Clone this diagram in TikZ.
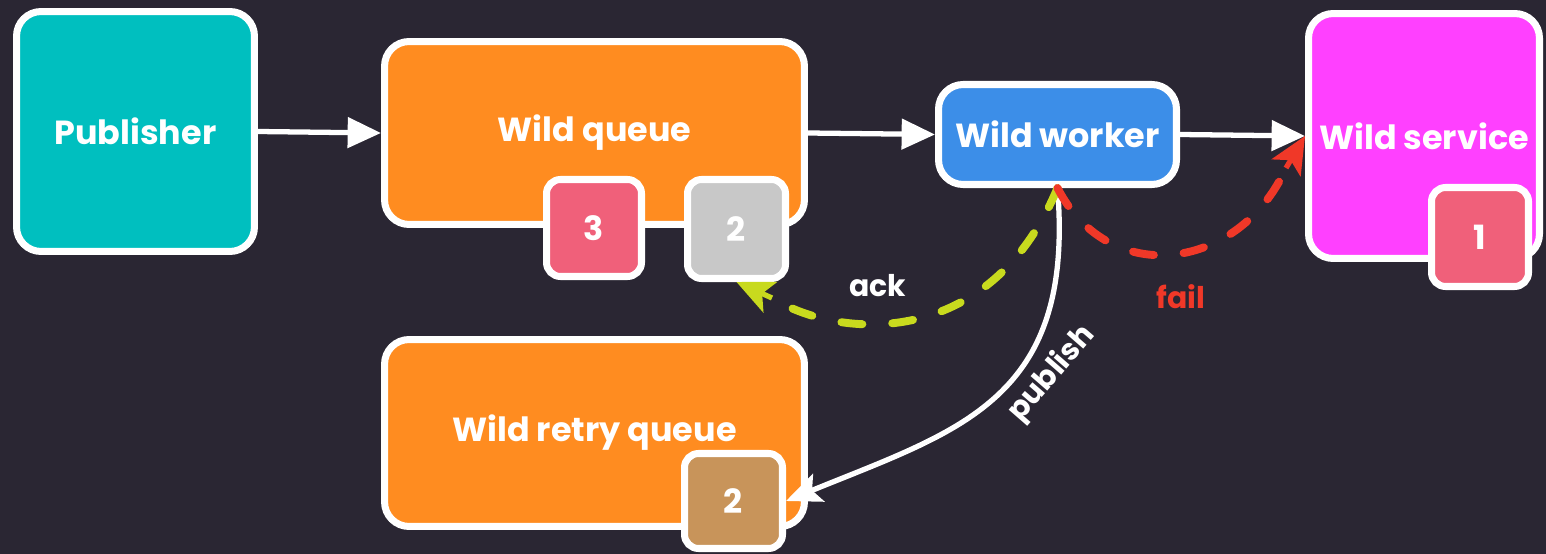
\documentclass[tikz,border=0pt]{standalone}
\usepackage{fontspec}
\setmainfont{Poppins}
\usetikzlibrary{arrows.meta}
\definecolor{bgc}{RGB}{42,38,51}
\definecolor{tealc}{RGB}{0,191,191}
\definecolor{orangec}{RGB}{255,140,32}
\definecolor{bluec}{RGB}{60,142,232}
\definecolor{magc}{RGB}{255,64,255}
\definecolor{badgered}{RGB}{240,96,122}
\definecolor{greyc}{RGB}{200,200,200}
\definecolor{tanc}{RGB}{200,148,90}
\definecolor{ackc}{RGB}{200,218,30}
\definecolor{failc}{RGB}{240,56,40}
\tikzset{
  box/.style={draw=white, line width=4pt, rounded corners=14pt, inner sep=0pt,
    text=white, font=\fontsize{19}{22}\selectfont\bfseries, align=center},
  badge/.style={box, rounded corners=8pt},
  flow/.style={color=white, line width=3pt, line cap=round,
    -{Triangle[length=19pt,width=17pt]}},
  dashline/.style={line width=4.5pt, line cap=round, dash pattern=on 12pt off 17pt},
  tipline/.style={line width=3pt, -{Stealth[length=21pt,width=19pt,inset=5pt]}},
  lbl/.style={font=\fontsize{17}{20}\selectfont\bfseries, inner sep=0pt}
}
\begin{document}
\begin{tikzpicture}[x=0.02cm,y=-0.02cm]
\fill[bgc] (0,0) rectangle (1546,554);
\useasboundingbox (0,0) rectangle (1546,554);

\node[box, fill=tealc, minimum width=4.76cm, minimum height=4.8cm] (pub) at (135.5,131.5) {Publisher};
\node[box, fill=orangec, minimum width=8.4cm, minimum height=3.66cm] (wq) at (594.5,133) {Wild queue};
\node[badge, fill=badgered, minimum width=1.9cm, minimum height=1.94cm] (b3) at (594,228) {3};
\node[badge, fill=greyc, minimum width=1.96cm, minimum height=1.98cm] (b2) at (736.5,229) {2};
\node[box, fill=bluec, minimum width=4.76cm, minimum height=2.0cm] (wk) at (1057.5,134.5) {Wild worker};
\node[box, fill=magc, minimum width=4.62cm, minimum height=4.9cm] (sv) at (1424,136) {Wild service};
\node[badge, fill=badgered, minimum width=1.94cm, minimum height=1.98cm] (b1) at (1480,237) {1};
\node[box, fill=orangec, minimum width=8.4cm, minimum height=3.74cm] (rq) at (594.5,433) {Wild retry queue};
\node[badge, fill=tanc, minimum width=1.96cm, minimum height=1.9cm] (bt) at (733.5,501) {2};

\draw[flow] (pub.east) -- (wq.west);
\draw[flow] (wq.east) -- (wk.west);
\draw[flow] (wk.east) -- (sv.west);

\draw[flow, -{Stealth[length=20pt,width=17pt,inset=4pt]}] (wk.south) .. controls (1075,400) and (960,430) .. (bt.east);

\coordinate (ackend) at (772,298);
\draw[dashline, color=ackc] (wk.south) .. controls (990,350) and (840,340) .. (ackend);
\draw[tipline, color=ackc] (ackend) -- (b2.south);

\coordinate (failend) at (1286,168);
\draw[dashline, color=failc] (wk.south) .. controls (1110,290) and (1240,270) .. (failend);
\draw[tipline, color=failc] (failend) -- (sv.west);

\node[lbl, text=white] (ack) at (878,286) {ack};
\node[lbl, text=failc] (fail) at (1181,297) {fail};
\node[lbl, text=white, rotate=49] (publ) at (1052,374) {publish};
\end{tikzpicture}
\end{document}
